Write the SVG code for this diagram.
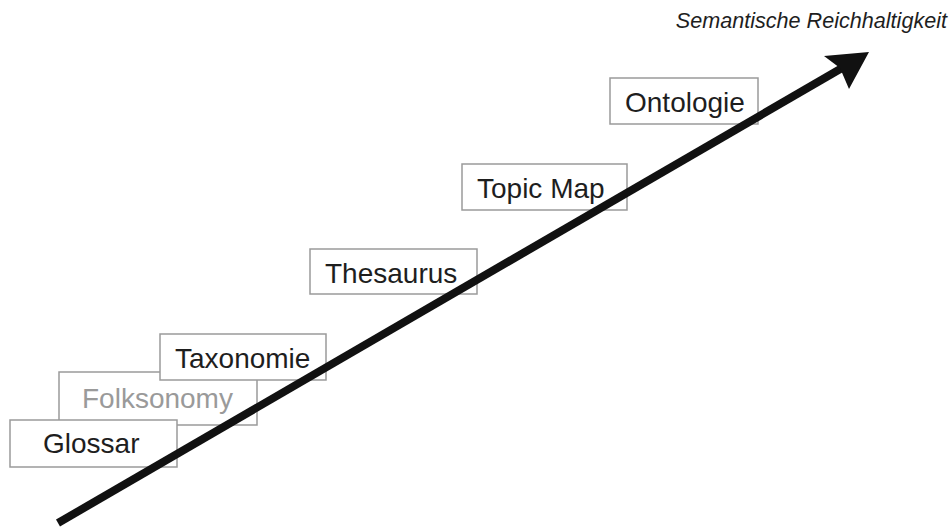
<svg xmlns="http://www.w3.org/2000/svg" width="952" height="529" viewBox="0 0 952 529">
  <style>
    .box { fill: #ffffff; stroke: #9a9a9a; stroke-width: 1.5; }
    .lbl { font-family: "Liberation Sans", Arial, sans-serif; font-size: 28px; fill: #1e1e1e; }
    .dim { fill: #9a9a9a; }
    .axis { font-family: "Liberation Sans", Arial, sans-serif; font-size: 21.6px; font-style: italic; fill: #1e1e1e; }
  </style>
  <rect width="952" height="529" fill="#ffffff"/>

  <g id="folksonomy">
    <rect class="box" x="59" y="372" width="198" height="53"/>
    <text class="lbl dim" x="82" y="408">Folksonomy</text>
  </g>
  <g id="glossar">
    <rect class="box" x="10" y="420" width="167" height="47"/>
    <text class="lbl" x="43" y="453">Glossar</text>
  </g>
  <g id="taxonomie">
    <rect class="box" x="160" y="334" width="166" height="46"/>
    <text class="lbl" x="175" y="368">Taxonomie</text>
  </g>
  <g id="thesaurus">
    <rect class="box" x="310" y="249" width="167" height="45"/>
    <text class="lbl" x="325" y="283">Thesaurus</text>
  </g>
  <g id="topicmap">
    <rect class="box" x="462" y="164" width="165" height="46"/>
    <text class="lbl" x="477" y="198">Topic Map</text>
  </g>
  <g id="ontologie">
    <rect class="box" x="610" y="78" width="148" height="46"/>
    <text class="lbl" x="625" y="112">Ontologie</text>
  </g>

  <g id="connectors">
    <line x1="58" y1="523" x2="842" y2="68" stroke="#111111" stroke-width="8"/>
    <polygon points="869,52 824,56 840,68 849,89" fill="#111111"/>
  </g>

  <text class="axis" x="947" y="28" text-anchor="end">Semantische Reichhaltigkeit</text>
</svg>
